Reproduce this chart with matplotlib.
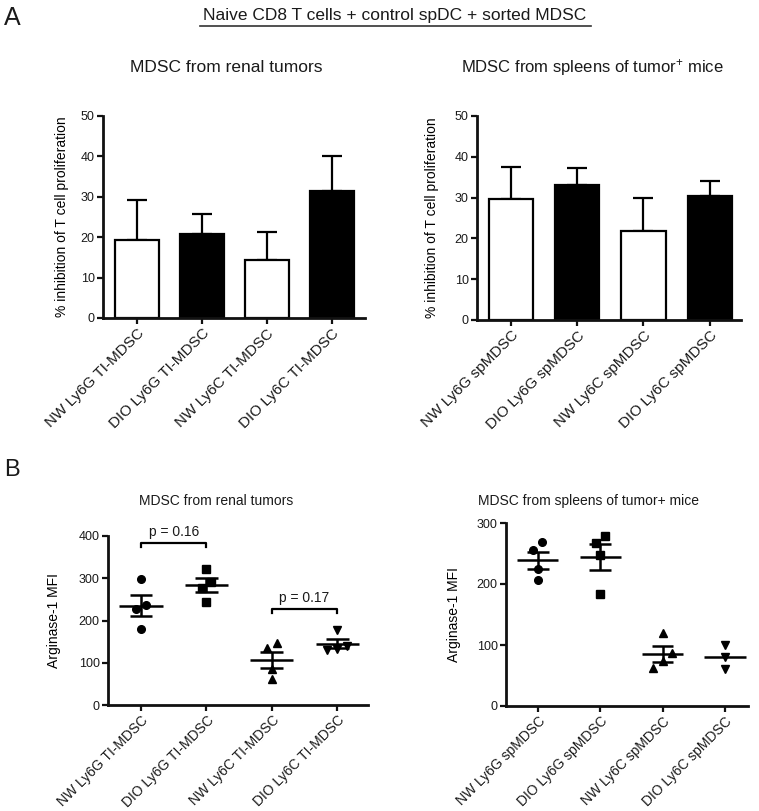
import matplotlib
matplotlib.use('Agg')
import matplotlib.pyplot as plt
import numpy as np
from matplotlib.lines import Line2D

plt.rcParams['font.family'] = ['Liberation Sans', 'DejaVu Sans']
plt.rcParams['mathtext.fontset'] = 'custom'
plt.rcParams['mathtext.rm'] = 'Liberation Sans'
plt.rcParams['mathtext.it'] = 'Liberation Sans:italic'
plt.rcParams['text.color'] = '#1a1a1a'

# ---------------- data ----------------
tumor_labels = ['NW Ly6G TI-MDSC', 'DIO Ly6G TI-MDSC', 'NW Ly6C TI-MDSC', 'DIO Ly6C TI-MDSC']
spleen_labels = ['NW Ly6G spMDSC', 'DIO Ly6G spMDSC', 'NW Ly6C spMDSC', 'DIO Ly6C spMDSC']

tumor_inhibition_mean = [19.3, 20.9, 14.4, 31.5]
tumor_inhibition_err = [9.8, 4.9, 7.0, 8.7]
spleen_inhibition_mean = [29.7, 33.0, 21.7, 30.5]
spleen_inhibition_err = [7.7, 4.3, 8.2, 3.5]
bar_colors = ['white', 'black', 'white', 'black']

tumor_arg1 = [[298, 236, 228, 179],
              [323, 291, 276, 244],
              [146, 134, 85, 61],
              [177, 140, 133, 130]]
spleen_arg1 = [[269, 255, 225, 206],
               [279, 267, 247, 184],
               [119, 87, 73, 62],
               [100, 80, 60]]
spleen_show_sem = [True, True, True, False]
tumor_show_sem = [True, True, True, True]
markers = ['o', 's', '^', 'v']

tumor_pvals = [(0, 1, 'p = 0.16', 384), (2, 3, 'p = 0.17', 228)]

W, H = 759, 811
fig = plt.figure(figsize=(W / 100, H / 100), dpi=100)


def axes_px(x0, x1, ytop, ybot):
    return fig.add_axes([x0 / W, 1 - ybot / H, (x1 - x0) / W, (ybot - ytop) / H])


def style(ax, tick_fs=9):
    for s in ['top', 'right']:
        ax.spines[s].set_visible(False)
    for s in ['left', 'bottom']:
        ax.spines[s].set_linewidth(2.0)
        ax.spines[s].set_color('#111111')
    ax.tick_params(direction='out', length=4, width=1.6, colors='#111111',
                   labelsize=tick_fs, labelcolor='#1a1a1a', pad=2)


def bar_panel(ax, labels, means, errs, ylabel, xlim, lab_fs=11):
    style(ax)
    x = np.arange(len(labels))
    ax.errorbar(x, means, yerr=[np.zeros(len(errs)), errs], fmt='none',
                ecolor='black', elinewidth=1.6, capsize=7.5, capthick=1.6, zorder=1)
    ax.bar(x, means, width=0.67, color=bar_colors, edgecolor='black', linewidth=1.6, zorder=2)
    ax.set_ylim(0, 50)
    ax.set_yticks([0, 10, 20, 30, 40, 50])
    ax.set_xlim(*xlim)
    ax.set_xticks(x)
    ax.set_xticklabels(labels, rotation=45, ha='right', rotation_mode='anchor', fontsize=lab_fs)
    ax.set_ylabel(ylabel, fontsize=10)


def jitter(vals, thresh, step=0.15):
    vals = np.asarray(vals, float)
    order = np.argsort(vals)
    offs = np.zeros(len(vals))
    clusters, cur = [], [order[0]]
    for i in order[1:]:
        if vals[i] - vals[cur[-1]] <= thresh:
            cur.append(i)
        else:
            clusters.append(cur)
            cur = [i]
    clusters.append(cur)
    for c in clusters:
        n = len(c)
        for k, idx in enumerate(c):
            offs[idx] = (k - (n - 1) / 2) * step
    return offs


def scatter_panel(ax, labels, groups, show_sem, ymax, yticks, xlim, lab_fs=10):
    style(ax)
    for i, g in enumerate(groups):
        g = np.asarray(g, float)
        offs = jitter(g, 0.05 * ymax)
        ax.plot(i + offs, g, linestyle='none', marker=markers[i], color='black',
                markersize=5.5, zorder=3)
        m = g.mean()
        sem = g.std(ddof=1) / np.sqrt(len(g))
        ax.hlines(m, i - 0.33, i + 0.33, color='black', linewidth=1.8, zorder=4)
        if show_sem[i]:
            ax.vlines(i, m - sem, m + sem, color='black', linewidth=1.8, zorder=4)
            ax.hlines([m - sem, m + sem], i - 0.175, i + 0.175, color='black', linewidth=1.8, zorder=4)
    ax.set_ylim(0, ymax)
    ax.set_yticks(yticks)
    ax.set_xlim(*xlim)
    ax.set_xticks(np.arange(len(labels)))
    ax.set_xticklabels(labels, rotation=45, ha='right', rotation_mode='anchor', fontsize=lab_fs)
    ax.set_ylabel('Arginase-1 MFI', fontsize=10)


# ---------------- panel A ----------------
axA1 = axes_px(103, 365, 116, 318)
bar_panel(axA1, tumor_labels, tumor_inhibition_mean, tumor_inhibition_err,
          '% inhibition of T cell proliferation', (-0.52, 3.51))
axA1.yaxis.set_label_coords(-0.128, 0.5)

axA2 = axes_px(477, 741, 116, 320)
bar_panel(axA2, spleen_labels, spleen_inhibition_mean, spleen_inhibition_err,
          '% inhibition of T cell proliferation', (-0.51, 3.47))
axA2.yaxis.set_label_coords(-0.144, 0.5)

# ---------------- panel B ----------------
axB1 = axes_px(108, 368, 536, 705)
scatter_panel(axB1, tumor_labels, tumor_arg1, tumor_show_sem, 400, [0, 100, 200, 300, 400], (-0.505, 3.47))
axB1.yaxis.set_label_coords(-0.18, 0.5)
for a, b, txt, yb in tumor_pvals:
    axB1.plot([a, a, b, b], [yb - 11, yb, yb, yb - 11], color='black', linewidth=1.6, zorder=4)
    axB1.annotate(txt, xy=((a + b) / 2, yb), xytext=(0, 2.5), textcoords='offset points',
                  ha='center', va='bottom', fontsize=10)

axB2 = axes_px(506, 748, 523, 706)
scatter_panel(axB2, spleen_labels, spleen_arg1, spleen_show_sem, 300, [0, 100, 200, 300], (-0.51, 3.37))
axB2.yaxis.set_label_coords(-0.186, 0.5)

# ---------------- figure texts ----------------
def ftext(x, y, s, **kw):
    fig.text(x / W, 1 - y / H, s, **kw)

ftext(395, 20, 'Naive CD8 T cells + control spDC + sorted MDSC', ha='center', va='baseline', fontsize=12.5)
fig.add_artist(Line2D([200 / W, 591 / W], [1 - 25.5 / H, 1 - 25.5 / H], color='#333333', linewidth=1.2))
ftext(4, 25, 'A', ha='left', va='baseline', fontsize=18)
ftext(226, 72, 'MDSC from renal tumors', ha='center', va='baseline', fontsize=12.5)
ftext(592, 72, r'MDSC from spleens of tumor$^{+}$ mice', ha='center', va='baseline', fontsize=12)

ftext(4, 476, 'B', ha='left', va='baseline', fontsize=17)
ftext(216, 505, 'MDSC from renal tumors', ha='center', va='baseline', fontsize=10)
ftext(588, 505, 'MDSC from spleens of tumor+ mice', ha='center', va='baseline', fontsize=10)

fig.savefig('out.png', dpi=100)
